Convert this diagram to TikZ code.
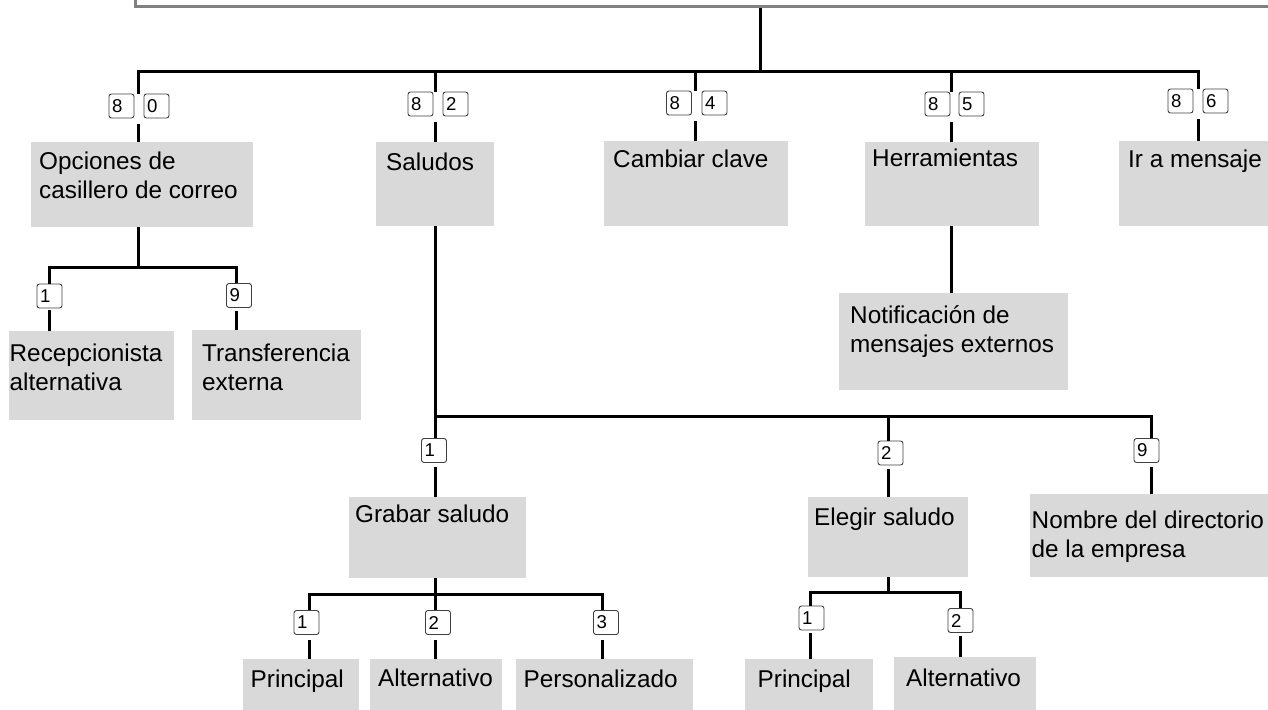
\documentclass[tikz,border=0pt]{standalone}
\usepackage{fontspec}
\setmainfont{Liberation Sans}
\usetikzlibrary{positioning,calc}
\definecolor{boxgray}{HTML}{D9D9D9}
\definecolor{framegray}{HTML}{808080}
\tikzset{
  tline/.style={line width=3pt},
  keycap/.style={draw=black!75, line width=0.9pt, rounded corners=2.5pt, fill=white,
    text width=19pt, align=left, inner xsep=3pt, inner ysep=0pt,
    minimum height=24pt, font=\fontsize{18.6}{18.6}\selectfont},
  btext/.style={anchor=base west, align=left, inner sep=0pt,
    font=\fontsize{24.3}{29}\selectfont},
}
\begin{document}
\begin{tikzpicture}[x=1pt,y=-1pt]
  \useasboundingbox (0,0) rectangle (1268,709);

  % top frame
  \node[draw=framegray, line width=2.6pt, anchor=south west, minimum width=1160pt,
        minimum height=40pt, inner sep=0pt] (menu) at (134,8) {};

  % branch points
  \coordinate (top) at (760,8);
  \coordinate (j0)  at (760,71);
  \coordinate (r80) at (138,71);
  \coordinate (r82) at (435,71);
  \coordinate (r84) at (695,71);
  \coordinate (r85) at (951,71);
  \coordinate (r86) at (1198,71);
  \coordinate (o1)  at (49,267);
  \coordinate (o9)  at (236,267);
  \coordinate (s1)  at (435,416);
  \coordinate (s2)  at (888,416);
  \coordinate (s9)  at (1151,416);
  \coordinate (g1)  at (309,594);
  \coordinate (g2)  at (435,594);
  \coordinate (g3)  at (602,594);
  \coordinate (e1)  at (810,592);
  \coordinate (e2)  at (960,592);

  % menu boxes
  \begin{scope}[every node/.style={fill=boxgray, anchor=north west, inner sep=0pt}]
    \node[minimum width=222pt, minimum height=85pt] (opc)  at (31,142)  {};
    \node[minimum width=118pt, minimum height=84pt] (sal)  at (376,142) {};
    \node[minimum width=184pt, minimum height=85pt] (cam)  at (604,141) {};
    \node[minimum width=174pt, minimum height=84pt] (her)  at (865,142) {};
    \node[minimum width=160pt, minimum height=85pt] (ira)  at (1119,141) {};
    \node[minimum width=165pt, minimum height=89pt] (rec)  at (9,331)   {};
    \node[minimum width=169pt, minimum height=90pt] (tra)  at (192,330) {};
    \node[minimum width=229pt, minimum height=97pt] (noti) at (839,293) {};
    \node[minimum width=177pt, minimum height=81pt] (gra)  at (349,497) {};
    \node[minimum width=160pt, minimum height=80pt] (ele)  at (808,497) {};
    \node[minimum width=245pt, minimum height=83pt] (nom)  at (1030,494) {};
    \node[minimum width=116pt, minimum height=56pt] (pri1) at (243,659) {};
    \node[minimum width=132pt, minimum height=56pt] (alt1) at (370,659) {};
    \node[minimum width=177pt, minimum height=56pt] (per)  at (516,659) {};
    \node[minimum width=128pt, minimum height=56pt] (pri2) at (745,659) {};
    \node[minimum width=142pt, minimum height=58pt] (alt2) at (894,657) {};
  \end{scope}

  % keys
  \begin{scope}[every node/.style={keycap}]
    \node (k80a) at (121.5,106) {8};
    \node (k80b) at (156.5,106) {0};
    \node (k82a) at (420.5,104) {8};
    \node (k82b) at (455.5,104) {2};
    \node (k84a) at (679,103)   {8};
    \node (k84b) at (714.5,103) {4};
    \node (k85a) at (937.5,104) {8};
    \node (k85b) at (971.5,104) {5};
    \node (k86a) at (1180.5,101) {8};
    \node (k86b) at (1215.5,101) {6};
    \node (ko1)  at (49.5,296)  {1};
    \node (ko9)  at (239,295.5) {9};
    \node (ks1)  at (434,450.5) {1};
    \node (ks2)  at (890.5,453) {2};
    \node (ks9)  at (1146.5,450.5) {9};
    \node (kg1)  at (306.5,622.5) {1};
    \node (kg2)  at (438,622.5) {2};
    \node (kg3)  at (606,622.5) {3};
    \node (ke1)  at (811.5,618) {1};
    \node (ke2)  at (960.5,620.5) {2};
  \end{scope}

  % labels (two-line labels sit on the baseline of their last line)
  \begin{scope}[every node/.style={btext}]
    \node (opc-t)  at (39,198.5)   {Opciones de\\casillero de correo};
    \node (sal-t)  at (386,170)    {Saludos};
    \node (cam-t)  at (613,167.5)  {Cambiar clave};
    \node (her-t)  at (872,166)    {Herramientas};
    \node (ira-t)  at (1128,167.5) {Ir a mensaje};
    \node (rec-t)  at (9.5,390)    {Recepcionista\\alternativa};
    \node (tra-t)  at (202,390.5)  {Transferencia\\externa};
    \node (noti-t) at (850,352.5)  {Notificación de\\mensajes externos};
    \node (gra-t)  at (355,522.5)  {Grabar saludo};
    \node (ele-t)  at (814,525.5)  {Elegir saludo};
    \node (nom-t)  at (1031.5,557.5) {Nombre del directorio\\de la empresa};
    \node (pri1-t) at (250.5,687.5) {Principal};
    \node (alt1-t) at (378,686.5)  {Alternativo};
    \node (per-t)  at (523.5,687.5) {Personalizado};
    \node (pri2-t) at (757.5,687.5) {Principal};
    \node (alt2-t) at (906,686.5)  {Alternativo};
  \end{scope}

  % connectors
  \begin{scope}[tline]
    \draw (top) -- (j0);
    \draw (r80 |- k80a.north) -- (r80) -- (r86) -- (r86 |- k86a.north);
    \draw (r82) -- (r82 |- k82a.north);
    \draw (r84) -- (r84 |- k84a.north);
    \draw (r85) -- (r85 |- k85a.north);
    \draw ($(r80 |- k80a.south)+(0,6)$) -- (r80 |- opc.north);
    \draw ($(r82 |- k82a.south)+(0,6)$) -- (r82 |- sal.north);
    \draw ($(r84 |- k84a.south)+(0,6)$) -- (r84 |- cam.north);
    \draw ($(r85 |- k85a.south)+(0,6)$) -- (r85 |- her.north);
    \draw ($(r86 |- k86a.south)+(0,6)$) -- (r86 |- ira.north);

    \draw (opc.south -| r80) -- (r80 |- o1);
    \draw (o1 |- ko1.north) -- (o1) -- (o9) -- (o9 |- ko9.north);
    \draw ($(o1 |- ko1.south)+(0,2)$) -- (o1 |- rec.north);
    \draw ($(o9 |- ko9.south)+(0,3)$) -- (o9 |- tra.north);

    \draw (her.south -| r85) -- (r85 |- noti.north);

    \draw (sal.south -| s1) -- (s1 |- ks1.north);
    \draw (s1) -- (s9) -- (s9 |- ks9.north);
    \draw (s2) -- (s2 |- ks2.north);
    \draw ($(s1 |- ks1.south)+(0,4)$) -- (s1 |- gra.north);
    \draw ($(s2 |- ks2.south)+(0,4)$) -- (s2 |- ele.north);
    \draw ($(s9 |- ks9.south)+(0,4)$) -- (s9 |- nom.north);

    \draw (gra.south -| g2) -- (g2 |- kg2.north);
    \draw (g1 |- kg1.north) -- (g1) -- (g3) -- (g3 |- kg3.north);
    \draw ($(g1 |- kg1.south)+(0,5)$) -- (g1 |- pri1.north);
    \draw ($(g2 |- kg2.south)+(0,5)$) -- (g2 |- alt1.north);
    \draw ($(g3 |- kg3.south)+(0,5)$) -- (g3 |- per.north);

    \draw (ele.south -| s2) -- (s2 |- e1);
    \draw (e1 |- ke1.north) -- (e1) -- (e2) -- (e2 |- ke2.north);
    \draw ($(e1 |- ke1.south)+(0,3)$) -- (e1 |- pri2.north);
    \draw ($(e2 |- ke2.south)+(0,3)$) -- (e2 |- alt2.north);
  \end{scope}

\end{tikzpicture}
\end{document}
